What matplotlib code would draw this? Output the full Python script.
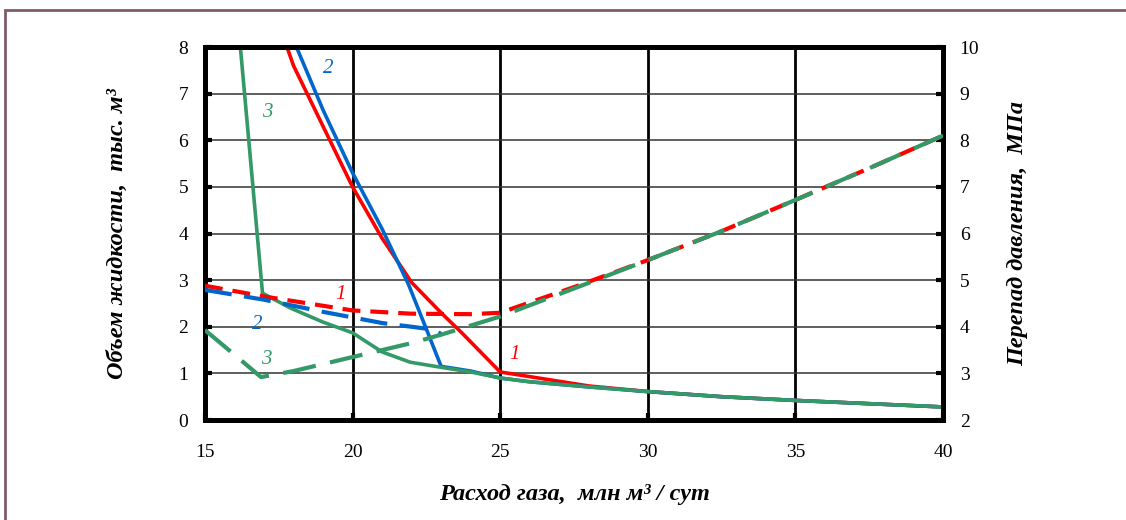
import matplotlib.pyplot as plt
from matplotlib.patches import Rectangle

# Объем жидкости (левая ось), сплошные линии
x1 = [17.78, 18, 19, 20, 21, 22, 23, 23.7, 25, 26, 27, 28, 30, 32.5, 35, 37.5, 40]
v1 = [8.0, 7.6, 6.3, 5.0, 3.9, 2.95, 2.3, 1.87, 1.03, 0.93, 0.83, 0.73, 0.61, 0.5, 0.42, 0.35, 0.28]

x2 = [18.1, 19, 20, 21, 21.9, 22.5, 23, 24, 25, 26, 28, 30, 32.5, 35, 37.5, 40]
v2 = [8.0, 6.65, 5.3, 4.1, 2.9, 1.95, 1.15, 1.05, 0.9, 0.82, 0.71, 0.61, 0.5, 0.42, 0.35, 0.28]

x3 = [16.2, 16.95, 17.9, 19, 20, 21, 21.95, 23, 24, 25, 26, 28, 30, 32.5, 35, 37.5, 40]
v3 = [8.0, 2.72, 2.4, 2.1, 1.87, 1.46, 1.24, 1.13, 1.03, 0.9, 0.82, 0.71, 0.61, 0.5, 0.42, 0.35, 0.28]

# Перепад давления (правая ось), штриховые линии
xd1 = [15, 17, 19, 20, 22, 24, 25, 27.5, 30, 32.5, 35, 37.5, 40]
p1 = [4.88, 4.65, 4.45, 4.35, 4.28, 4.27, 4.3, 4.85, 5.43, 6.05, 6.72, 7.4, 8.1]

xd2 = [15, 17, 19, 20, 21, 22, 22.6, 23]
p2 = [4.79, 4.58, 4.32, 4.2, 4.08, 4.0, 3.95, 3.85]

xd3 = [15, 16, 16.9, 18, 20, 22, 23, 25, 27.5, 30, 32.5, 35, 37.5, 40]
p3 = [3.93, 3.4, 2.92, 3.05, 3.35, 3.65, 3.83, 4.22, 4.82, 5.43, 6.05, 6.72, 7.4, 8.1]

xticks = [15, 20, 25, 30, 35, 40]

red = '#ff0000'
blue = '#0066cc'
green = '#339966'
serif = ['Liberation Serif', 'DejaVu Serif']

fig = plt.figure(figsize=(11.26, 5.2), dpi=100)
fig.patches.append(Rectangle((5 / 1126, -0.1), 1.2, (520 - 10) / 520 + 0.1,
                             transform=fig.transFigure, fill=False,
                             edgecolor='#7f5a6a', linewidth=2))

ax = fig.add_axes([0.182, 0.1923, 0.6555, 0.7173])
ax2 = ax.twinx()

ax.set_xlim(15, 40)
ax.set_ylim(0, 8)
ax2.set_ylim(2, 10)
ax.set_xticks(xticks)
ax.set_yticks(range(0, 9))
ax2.set_yticks(range(2, 11))

for xv in xticks[1:-1]:
    ax.axvline(xv, color='black', lw=2, zorder=1)
for yv in range(1, 8):
    ax.axhline(yv, color='#333333', lw=1.1, zorder=1)

lw = 2.6
ax.plot(x1, v1, color=red, lw=lw, zorder=3)
ax.plot(x2, v2, color=blue, lw=lw, zorder=4)
ax.plot(x3, v3, color=green, lw=lw, zorder=5)
ax2.plot(xd1, p1, color=red, lw=3, dashes=(4.3, 2.4), zorder=3)
ax2.plot(xd2, p2, color=blue, lw=3, dashes=(6.5, 3), zorder=4)
ax2.plot(xd3, p3, color=green, lw=3, dashes=(8, 3.5), zorder=5)

for a in (ax, ax2):
    for s in a.spines.values():
        s.set_linewidth(3.5)
    a.tick_params(direction='in', length=5, width=3, labelsize=14, pad=12)
    for t in a.get_xticklabels() + a.get_yticklabels():
        t.set_family(serif)
ax.tick_params(axis='x', pad=17)

lab = dict(family=serif, style='italic', fontsize=15)
ax.text(16.95, 6.5, '3', color=green, **lab)
ax.text(19.0, 7.45, '2', color=blue, **lab)
ax.text(19.4, 2.6, '1', color=red, **lab)
ax.text(16.6, 1.95, '2', color=blue, **lab)
ax.text(16.9, 1.2, '3', color=green, **lab)
ax.text(25.3, 1.3, '1', color=red, **lab)

axlab = dict(family=serif, style='italic', weight='bold', fontsize=17.5)
ax.set_xlabel('Расход газа,  млн м³ / сут', labelpad=17, **axlab)
ax.set_ylabel('Объем жидкости,  тыс. м³', labelpad=36, **axlab)
ax2.set_ylabel('Перепад давления,  МПа', labelpad=20, **axlab)

fig.savefig('out.png', dpi=100)
